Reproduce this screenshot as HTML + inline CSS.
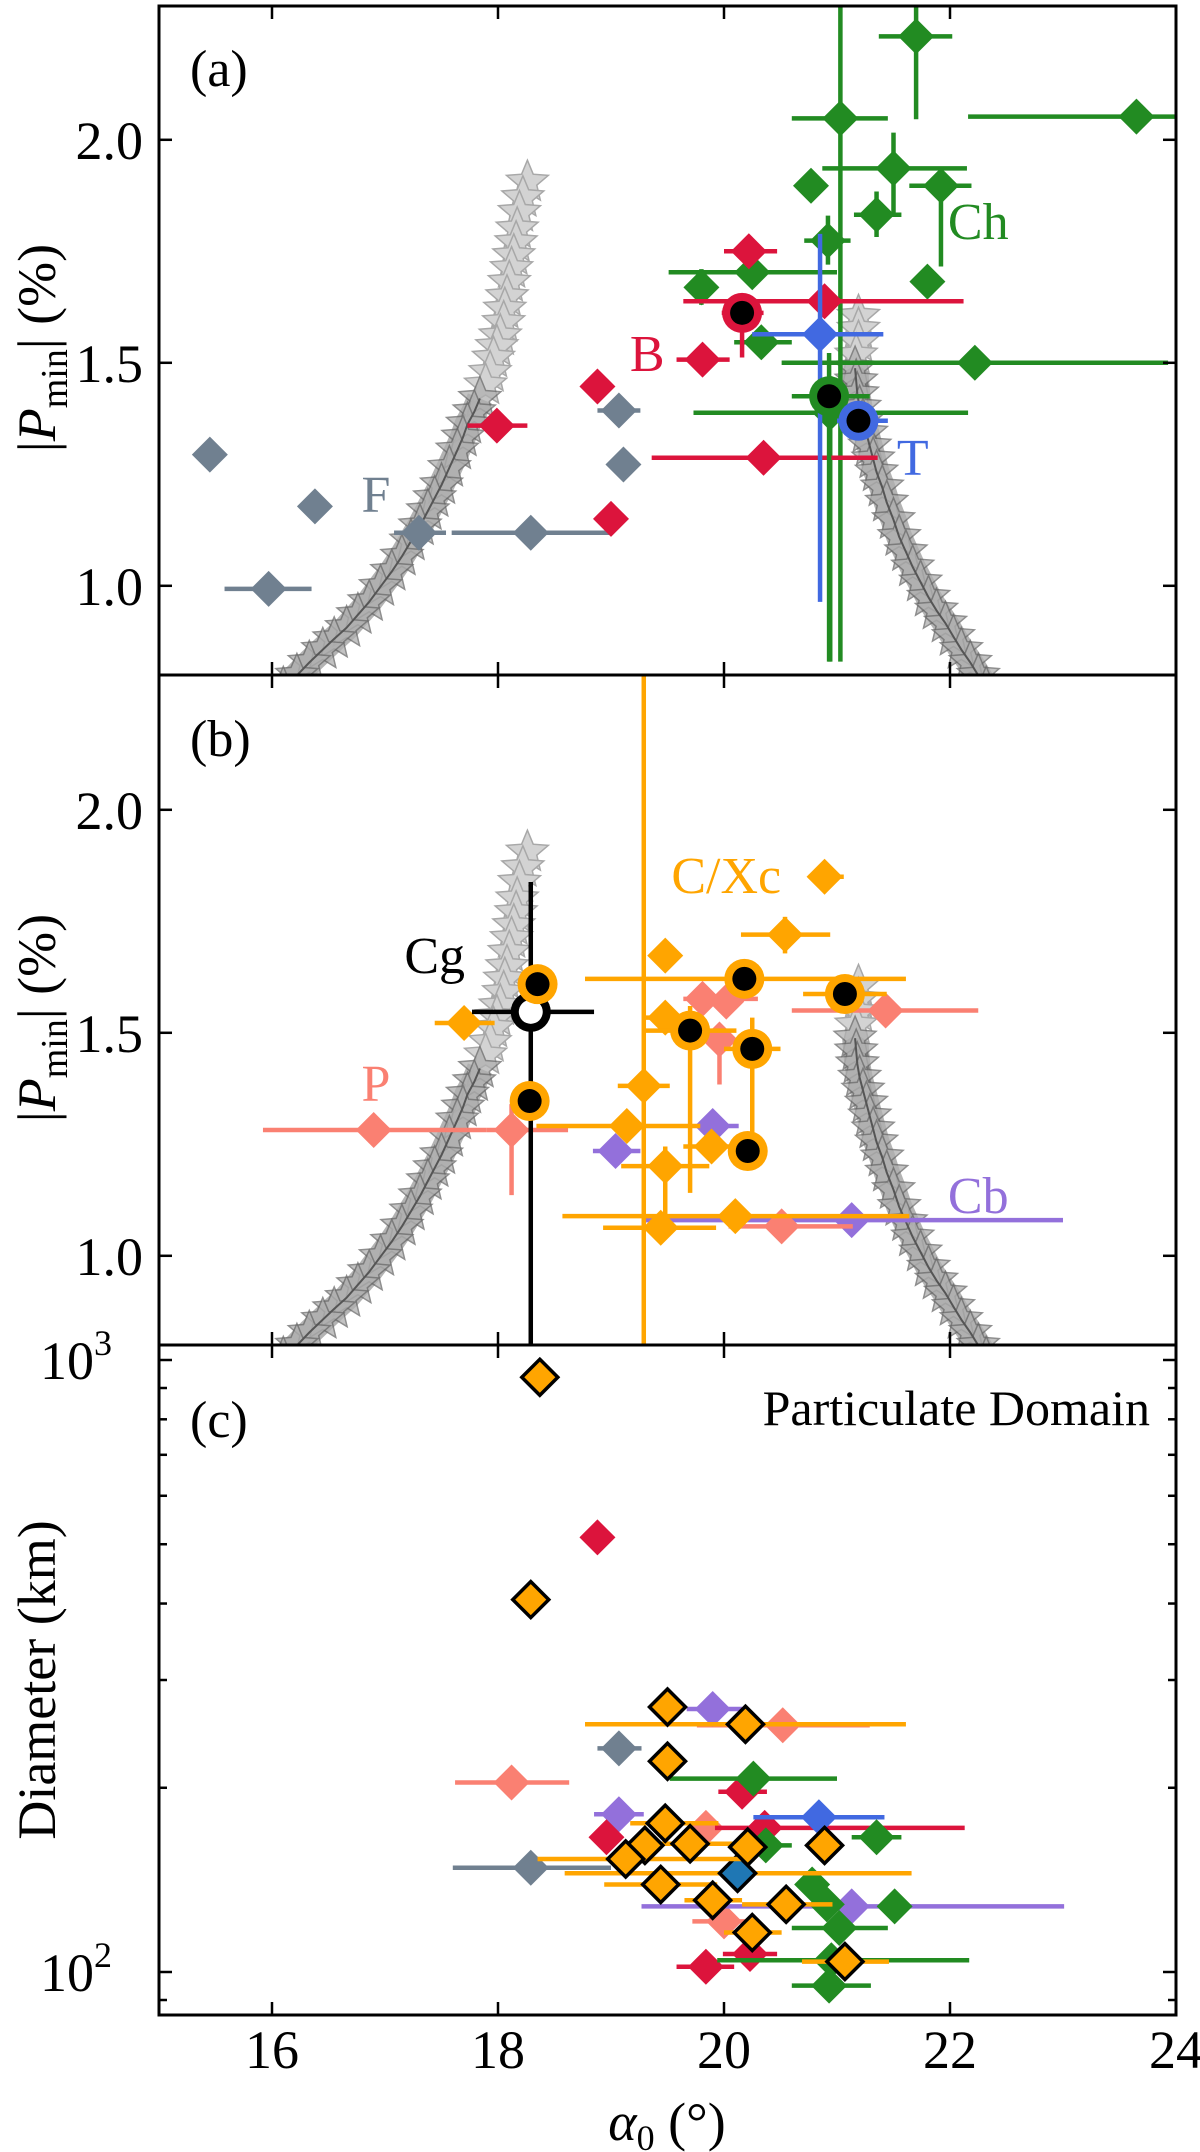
<!DOCTYPE html>
<html><head><meta charset="utf-8"><style>
html,body{margin:0;padding:0;background:#fff}
svg{display:block}
text{font-family:"Liberation Serif",serif}
</style></head><body>
<svg id="chart" width="1200" height="2152" viewBox="0 0 1200 2152" xmlns="http://www.w3.org/2000/svg">
<defs>
<clipPath id="clipA"><rect x="159" y="6" width="1017" height="669"/></clipPath>
<clipPath id="clipB"><rect x="159" y="675" width="1017" height="670"/></clipPath>
<clipPath id="clipC"><rect x="159" y="1345" width="1017" height="670"/></clipPath>
</defs>
<g id="layerA" clip-path="url(#clipA)"></g>
<g id="layerB" clip-path="url(#clipB)"></g>
<g id="layerC" clip-path="url(#clipC)"></g>
<g id="axes"></g>
</svg>
<script>
// ---------- data ----------
const xTicks = [16, 18, 20, 22, 24];
const pTicks = [1.0, 1.5, 2.0];
const pTickLabels = ["1.0", "1.5", "2.0"];
const dMajor = [100, 1000];
const dMinor = [90, 200, 300, 400, 500, 600, 700, 800, 900];

// model star curves [alpha0, Pmin]
const starLeft = [[18.26,1.905],[18.22,1.87],[18.19,1.837],[18.17,1.80],[18.16,1.769],[18.14,1.74],[18.12,1.711],[18.10,1.68],[18.08,1.648],[18.06,1.62],[18.05,1.590],[18.02,1.56],[17.99,1.536],[17.96,1.51],[17.93,1.478],[17.89,1.45],[17.84,1.420],[17.79,1.39],[17.73,1.362],[17.69,1.333],[17.64,1.304],[17.57,1.265],[17.50,1.226],[17.44,1.197],[17.38,1.168],[17.31,1.134],[17.23,1.100],[17.15,1.066],[17.06,1.032],[16.96,0.998],[16.86,0.964],[16.76,0.935],[16.66,0.906],[16.55,0.881],[16.45,0.857],[16.33,0.828],[16.22,0.799],[16.10,0.77]];
const starRight = [[21.19,1.604],[21.19,1.575],[21.19,1.546],[21.17,1.517],[21.16,1.488],[21.17,1.459],[21.18,1.430],[21.20,1.40],[21.23,1.371],[21.26,1.342],[21.29,1.313],[21.32,1.284],[21.35,1.255],[21.40,1.221],[21.44,1.187],[21.50,1.148],[21.55,1.110],[21.61,1.076],[21.67,1.042],[21.74,1.008],[21.81,0.974],[21.88,0.945],[21.96,0.916],[22.03,0.886],[22.10,0.857],[22.18,0.828],[22.25,0.799],[22.32,0.77]];

// panel (a): [x, y, xlo, xhi, ylo, yhi]
const aF = [[15.45,1.294],[16.38,1.178],[15.97,0.993,15.58,16.35],[17.30,1.119,17.08,17.54],[18.29,1.119,17.59,19.0],[19.07,1.393,18.88,19.26],[19.11,1.272]];
const aB = [[20.22,1.750,20.0,20.47],[19.81,1.507,19.58,20.05],[18.88,1.447],[17.99,1.359,17.73,18.26],[19.0,1.150],[20.35,1.287,19.36,21.36],[20.89,1.638,19.64,22.12]];
const aBcirc = [[20.16,1.612,19.98,20.35,1.512,1.653]];
const aCh = [[21.70,2.232,21.37,22.02,2.046,2.298],[21.03,2.048,20.60,21.45,0.83,2.30],[23.65,2.052,22.16,24.0],[21.50,1.936,20.87,22.15,1.827,2.016],[20.77,1.897],[21.92,1.897,21.64,22.19,1.716,1.929],[21.35,1.832,21.15,21.57,1.782,1.884],[20.92,1.774,20.71,21.12,1.72,1.83],[21.80,1.682],[20.25,1.703,19.51,21.0],[19.80,1.669,null,null,1.630,1.710],[20.33,1.546,20.09,20.60],[22.22,1.500,20.51,23.93],[20.94,1.388,19.73,22.16,0.83,1.47]];
const aChcirc = [[20.93,1.425,20.6,21.29,0.83,1.522]];
const aT = [[20.85,1.564,20.25,21.41,0.964,1.789]];
const aTcirc = [[21.19,1.370,21.0,21.45]];

// panel (b)
const bCg = [[18.29,1.547,17.77,18.85,0.796,1.838]];
const bCcirc = [[18.35,1.609],[18.28,1.347],[20.18,1.621,18.77,21.61],[21.07,1.587,20.70,21.44],[19.70,1.505,19.30,20.11,1.141,1.56],[20.25,1.464,20.0,20.50,1.233,1.534],[20.21,1.235]];
const bC = [[20.89,1.850,20.75,21.06],[20.54,1.720,20.15,20.94,1.678,1.760],[19.48,1.673],[17.70,1.522,17.44,17.97],[19.48,1.534,19.29,19.75],[19.29,1.381,19.06,19.52,0.78,2.32],[19.14,1.291,18.34,19.79],[19.89,1.245,19.64,20.10],[19.48,1.201,19.09,19.87,1.065,1.245],[20.10,1.089,18.57,21.64],[19.44,1.063,18.93,19.93]];
const bP = [[16.90,1.282,15.92,17.90],[18.12,1.282,17.90,18.62,1.136,1.340],[21.43,1.550,20.60,22.25],[19.81,1.576,19.64,20.30],[20.02,1.570],[19.96,1.485,null,null,1.384,1.510],[20.51,1.066,20.04,21.14]];
const bCb = [[21.13,1.080,19.29,23.0],[19.90,1.291,19.76,20.13],[19.04,1.235,18.84,19.26]];

// panel (c): [x, diameter, xlo, xhi]
const cF = [[19.07,232,18.88,19.27],[18.29,148,17.60,19.0]];
const cP = [[18.12,204,17.62,18.63],[20.52,253,19.76,21.29],[19.84,172],[20.0,121,19.72,20.20]];
const cCb = [[19.90,269,19.67,20.16],[19.07,181,18.85,19.29],[21.13,128,19.27,23.01]];
const cB = [[18.88,513],[20.16,197,19.95,20.38],[18.96,166],[20.36,172,19.92,22.13],[19.84,102,19.58,20.09],[20.23,107,19.99,20.47]];
const cT = [[20.84,179,20.26,21.42]];
const cCh = [[20.26,207,19.52,21.0],[20.37,161,20.25,20.60],[20.78,139],[21.35,166,21.13,21.57],[21.51,128],[21.02,118,20.60,21.45],[20.93,95,20.60,21.30],[20.95,104.5,19.94,22.17],[20.91,129]];
const cOrangeBar = [[20.12,145,18.59,21.66]];
const cS = [[20.12,145]];
const cC = [[18.37,937],[18.29,406],[19.50,271],[20.19,254,18.77,21.61],[19.50,221],[19.48,175,19.17,19.95],[19.30,161],[19.70,162,19.40,20.10],[19.13,153,18.35,20.27],[20.21,160],[20.89,161],[19.44,139,18.94,19.94],[19.90,131,19.65,20.16],[20.55,129,20.16,20.96],[20.25,116,20.0,20.51],[21.07,104,20.69,21.46]];

// ---------- scales ----------
const NS = "http://www.w3.org/2000/svg";
const X = v => 159 + (v - 15) * 113;
const YA = v => 6 + (2.3 - v) * 446;
const YB = v => 676 + (2.3 - v) * 446;
const YC = d => 1360 + (3 - Math.log10(d)) * 612;
const COL = {slate:"#708090", red:"#dc143c", green:"#228b22", blue:"#4169e1", orange:"#ffa500", salmon:"#fa8072", purple:"#9370db", steel:"#1f77b4"};

function mk(tag, attrs, parent) {
  const e = document.createElementNS(NS, tag);
  for (const k in attrs) e.setAttribute(k, attrs[k]);
  parent.appendChild(e);
  return e;
}
function errbars(g, row, Y, color, isLog) {
  const [x, y, xlo, xhi, ylo, yhi] = row;
  if (xlo != null) {
    const l = mk("line", {x1:X(xlo), x2:X(xhi), y1:Y(y), y2:Y(y), stroke:color, "stroke-width":4.5}, g);
    
    
  }
  if (!isLog && ylo != null) {
    const l = mk("line", {x1:X(x), x2:X(x), y1:Y(ylo), y2:Y(yhi), stroke:color, "stroke-width":4.5}, g);
    
    
  }
}
function diamond(g, cx, cy, color, outline, name) {
  const h = 18;
  const p = mk("polygon", {points:`${cx},${cy-h} ${cx+h},${cy} ${cx},${cy+h} ${cx-h},${cy}`, fill:color}, g);
  if (outline) { p.setAttribute("stroke", "#000"); p.setAttribute("stroke-width", "3.5"); p.setAttribute("stroke-linejoin", "miter"); }
  
  
}
function ring(g, cx, cy, color, center, name) {
  const c1 = mk("circle", {cx:cx, cy:cy, r:20, fill:color}, g);
  
  
  const c2 = mk("circle", {cx:cx, cy:cy, r:12, fill:center}, g);
  
  
}
function starPath(cx, cy, R) {
  const r = R * 0.45; let s = "";
  for (let i = 0; i < 10; i++) {
    const a = -Math.PI / 2 + i * Math.PI / 5, rr = i % 2 ? r : R;
    s += (i ? "L" : "M") + (cx + rr * Math.cos(a)).toFixed(1) + "," + (cy + rr * Math.sin(a)).toFixed(1);
  }
  return s + "Z";
}
function drawStars(g, Y) {
  [starLeft, starRight].forEach((arr, bi) => {
    const lowPts = arr.filter(p => p[1] < (bi === 0 ? 1.45 : 1.5));
    const band = mk("polyline", {points: lowPts.map(p => X(p[0]) + "," + Y(p[1])).join(" "), fill:"none", stroke:"#a0a0a0", "stroke-width":26, "stroke-linejoin":"round", opacity:0.8}, g);
    
    
    arr.forEach(p => {
      const dark = p[1] < (bi === 0 ? 1.45 : 1.5);
      const s = mk("path", {d: starPath(X(p[0]), Y(p[1]), 22), fill: dark ? "#b0b0b0" : "#d3d3d3", stroke: dark ? "#6a6a6a" : "#a8a8a8", "stroke-width":1.5, opacity: dark ? 0.75 : 1}, g);
      
      
    });
    const line = mk("polyline", {points: lowPts.map(p => X(p[0]) + "," + Y(p[1])).join(" "), fill:"none", stroke:"#555", "stroke-width":2}, g);
    
    
  });
}
function group(layer, rows, Y, color, kind, name, isLog) {
  const g = mk("g", {}, layer);
  
  
  rows.forEach(r => errbars(g, r, Y, kind === "cg" ? "#000" : color, isLog));
  rows.forEach(r => {
    const cx = X(r[0]), cy = Y(r[1]);
    if (kind === "d") diamond(g, cx, cy, color, false, name + "-point");
    else if (kind === "do") diamond(g, cx, cy, color, true, name + "-point");
    else if (kind === "c") ring(g, cx, cy, color, "#000", name + "-point");
    else if (kind === "cg") ring(g, cx, cy, "#000", "#fff", name + "-point");
  });
}
function label(parent, x, y, txt, color, size, name, anchor) {
  const t = mk("text", {x:x, y:y, fill:color, "font-size":size, "text-anchor":anchor || "start"}, parent);
  t.textContent = txt;
  
  
  return t;
}

const LA = document.getElementById("layerA"), LB = document.getElementById("layerB"), LC = document.getElementById("layerC"), AX = document.getElementById("axes");

// panel a
drawStars(LA, YA);
group(LA, aF, YA, COL.slate, "d", "f-type");
group(LA, aCh, YA, COL.green, "d", "ch-type");
group(LA, aB, YA, COL.red, "d", "b-type");
group(LA, aT, YA, COL.blue, "d", "t-type");
group(LA, aBcirc, YA, COL.red, "c", "b-type-highlight");
group(LA, aChcirc, YA, COL.green, "c", "ch-type-highlight");
group(LA, aTcirc, YA, COL.blue, "c", "t-type-highlight");

// panel b
drawStars(LB, YB);
group(LB, bCb, YB, COL.purple, "d", "cb-type");
group(LB, bP, YB, COL.salmon, "d", "p-type");
group(LB, bC, YB, COL.orange, "d", "c-xc-type");
group(LB, bCg, YB, "#000", "cg", "cg-type");
group(LB, bCcirc, YB, COL.orange, "c", "c-xc-highlight");

// panel c
group(LC, cF, YC, COL.slate, "d", "f-diameter", true);
group(LC, cP, YC, COL.salmon, "d", "p-diameter", true);
group(LC, cCb, YC, COL.purple, "d", "cb-diameter", true);
group(LC, cB, YC, COL.red, "d", "b-diameter", true);
group(LC, cT, YC, COL.blue, "d", "t-diameter", true);
group(LC, cCh, YC, COL.green, "d", "ch-diameter", true);
group(LC, cOrangeBar, YC, COL.orange, "none", "orange-bar", true);
group(LC, cS, YC, COL.steel, "do", "steel-diameter", true);
group(LC, cC, YC, COL.orange, "do", "c-xc-diameter", true);

// ---------- axes ----------
const panels = [{top:6, bot:675, Y:YA, n:"a"}, {top:675, bot:1345, Y:YB, n:"b"}, {top:1345, bot:2015, Y:null, n:"c"}];
panels.forEach(p => {
  xTicks.forEach(v => {
    if (v >= 24) return;
    const t1 = mk("line", {x1:X(v), x2:X(v), y1:p.bot, y2:p.bot - 13, stroke:"#000", "stroke-width":2.5}, AX);
    
    
    const t2 = mk("line", {x1:X(v), x2:X(v), y1:p.top, y2:p.top + 13, stroke:"#000", "stroke-width":2.5}, AX);
    
    
  });
  if (p.Y) {
    pTicks.forEach((v, i) => {
      const y = p.Y(v);
      [[159, 172], [1176, 1163]].forEach(s => {
        const t = mk("line", {x1:s[0], x2:s[1], y1:y, y2:y, stroke:"#000", "stroke-width":2.5}, AX);
        
        
      });
      label(AX, 143, y + 19, pTickLabels[i], "#000", 54, "y-tick-label", "end");
    });
  }
  const fr = mk("rect", {x:159, y:p.top, width:1017, height:p.bot - p.top, fill:"none", stroke:"#000", "stroke-width":3}, AX);
  
  
});
dMajor.concat(dMinor).forEach(d => {
  const y = YC(d), len = dMajor.includes(d) ? 13 : 8;
  if (y < 1345 || y > 2015) return;
  [[159, 159 + len], [1176, 1176 - len]].forEach(s => {
    const t = mk("line", {x1:s[0], x2:s[1], y1:y, y2:y, stroke:"#000", "stroke-width":2.5}, AX);
    
    
  });
});
dMajor.forEach((d, i) => {
  const t = label(AX, 112, YC(d) + 19, "10", "#000", 54, "diameter-tick-label", "end");
  const s = mk("tspan", {"font-size":36, dy:-24}, t); s.textContent = i === 0 ? "2" : "3";
});
xTicks.forEach(v => label(AX, X(v), 2068, String(v), "#000", 54, "x-tick-label", "middle"));

// axis titles
const xt = label(AX, 667, 2140, "", "#000", 54, "x-axis-title", "middle");
let s1 = mk("tspan", {"font-style":"italic"}, xt); s1.textContent = "α";
let s2 = mk("tspan", {"font-size":36, dy:10}, xt); s2.textContent = "0";
let s3 = mk("tspan", {dy:-10}, xt); s3.textContent = " (°)";

function pLabel(cy, name) {
  const t = mk("text", {x:0, y:0, "font-size":54, "text-anchor":"middle", transform:`translate(55,${cy}) rotate(-90)`}, AX);
  
  
  let a = mk("tspan", {}, t); a.textContent = "|";
  let b = mk("tspan", {"font-style":"italic"}, t); b.textContent = "P";
  let c = mk("tspan", {"font-size":38, dy:12}, t); c.textContent = "min";
  let d = mk("tspan", {dy:-12}, t); d.textContent = "| (%)";
}
pLabel(348, "y-axis-title-a");
pLabel(1018, "y-axis-title-b");
const dt = mk("text", {x:0, y:0, "font-size":54, "text-anchor":"middle", transform:"translate(55,1680) rotate(-90)"}, AX);
dt.textContent = "Diameter (km)";



// panel & class labels
label(AX, 190, 86, "(a)", "#000", 52, "panel-label-a");
label(AX, 190, 756, "(b)", "#000", 52, "panel-label-b");
label(AX, 190, 1437, "(c)", "#000", 52, "panel-label-c");
label(AX, 1150, 1425, "Particulate Domain", "#000", 50, "particulate-domain-label", "end");
label(AX, X(16.92), YA(1.207) + 18, "F", COL.slate, 52, "f-label", "middle");
label(AX, X(19.32), YA(1.522) + 18, "B", COL.red, 52, "b-label", "middle");
label(AX, X(22.25), YA(1.818) + 18, "Ch", COL.green, 52, "ch-label", "middle");
label(AX, X(21.67), YA(1.289) + 18, "T", COL.blue, 52, "t-label", "middle");
label(AX, X(17.44), YB(1.675) + 18, "Cg", "#000", 52, "cg-label", "middle");
label(AX, X(20.02), YB(1.854) + 18, "C/Xc", COL.orange, 52, "c-xc-label", "middle");
label(AX, X(16.92), YB(1.388) + 18, "P", COL.salmon, 52, "p-label", "middle");
label(AX, X(22.25), YB(1.136) + 18, "Cb", COL.purple, 52, "cb-label", "middle");
</script>
</body></html>
